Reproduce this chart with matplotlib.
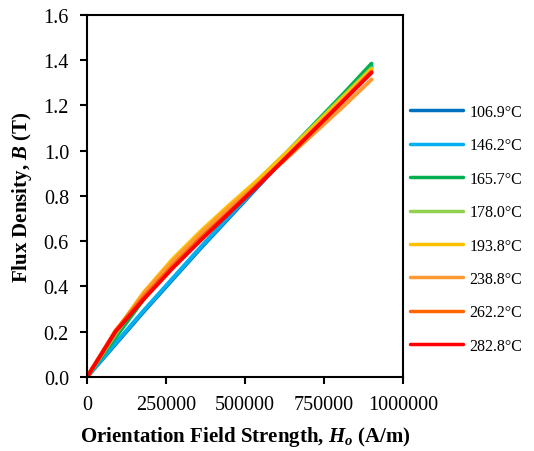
import numpy as np
import matplotlib
matplotlib.use('Agg')
import matplotlib.pyplot as plt

plt.rcParams['font.family'] = 'Liberation Serif'
plt.rcParams['mathtext.fontset'] = 'custom'
plt.rcParams['mathtext.rm'] = 'Liberation Serif'
plt.rcParams['mathtext.it'] = 'Liberation Serif:italic'
plt.rcParams['mathtext.bf'] = 'Liberation Serif:bold'
plt.rcParams['mathtext.bfit'] = 'Liberation Serif:italic:bold'

# field strength (A/m)
H = [0, 90000, 180000, 270000, 360000, 450000, 540000, 630000, 720000, 810000, 900000]

# flux density (T) for each orientation temperature
labels = ['106.9°C', '146.2°C', '165.7°C', '178.0°C', '193.8°C', '238.8°C', '262.2°C', '282.8°C']
B_1069 = [0, 0.145, 0.290, 0.430, 0.570, 0.705, 0.840, 0.975, 1.105, 1.240, 1.372]
B_1462 = [0, 0.150, 0.295, 0.435, 0.575, 0.710, 0.845, 0.980, 1.110, 1.245, 1.375]
B_1657 = [0, 0.175, 0.345, 0.490, 0.620, 0.745, 0.865, 0.990, 1.120, 1.250, 1.385]
B_1780 = [0, 0.190, 0.370, 0.515, 0.640, 0.755, 0.870, 0.990, 1.115, 1.240, 1.365]
B_1938 = [0, 0.200, 0.375, 0.520, 0.645, 0.760, 0.870, 0.990, 1.110, 1.235, 1.360]
B_2388 = [0, 0.200, 0.370, 0.510, 0.635, 0.750, 0.855, 0.965, 1.080, 1.195, 1.315]
B_2622 = [0, 0.205, 0.355, 0.490, 0.615, 0.730, 0.850, 0.970, 1.095, 1.220, 1.350]
B_2828 = [0, 0.200, 0.345, 0.480, 0.605, 0.725, 0.845, 0.970, 1.095, 1.220, 1.345]
colors = ['#0070C0', '#00B0F0', '#00B050', '#92D050', '#FFC000', '#FF9933', '#FF6600', '#FF0000']

series = [B_1069, B_1462, B_1657, B_1780, B_1938, B_2388, B_2622, B_2828]

fig = plt.figure(figsize=(5.34, 4.52), dpi=100)
ax = fig.add_axes([0.163, 0.1637, 0.592, 0.801])

for b, c, lab in zip(series, colors, labels):
    ax.plot(H, b, color=c, lw=2.8, label=lab, solid_capstyle='round')

ax.set_xlim(0, 1000000)
ax.set_ylim(0, 1.6)
ax.set_xticks([0, 250000, 500000, 750000, 1000000])
ax.set_xticklabels(['0', '250000', '500000', '750000', '1000000'])
ax.set_yticks(np.arange(0, 1.61, 0.2))
ax.set_yticklabels(['%.1f' % v for v in np.arange(0, 1.61, 0.2)])
ax.tick_params(direction='out', length=5, width=1.5, labelsize=14.5, pad=8)
for s in ax.spines.values():
    s.set_linewidth(1.5)

ax.set_xlabel(r'Orientation Field Strength, $\bfit{H}_{\bfit{o}}$ (A/m)', fontsize=15,
              fontweight='bold', va='center')
ax.set_ylabel(r'Flux Density, $\bfit{B}$ (T)', fontsize=15, fontweight='bold', va='center')
ax.xaxis.set_label_coords(0.5, -0.163)
ax.yaxis.set_label_coords(-0.205, 0.5)

leg = fig.legend(loc='upper left', bbox_to_anchor=(0.768, 0.768), frameon=False,
                 fontsize=11.5, handlelength=3.3, handletextpad=0.4,
                 labelspacing=1.09, borderpad=0, borderaxespad=0)
for l in leg.get_lines():
    l.set_linewidth(2.5)

fig.savefig('out.png', dpi=100)
